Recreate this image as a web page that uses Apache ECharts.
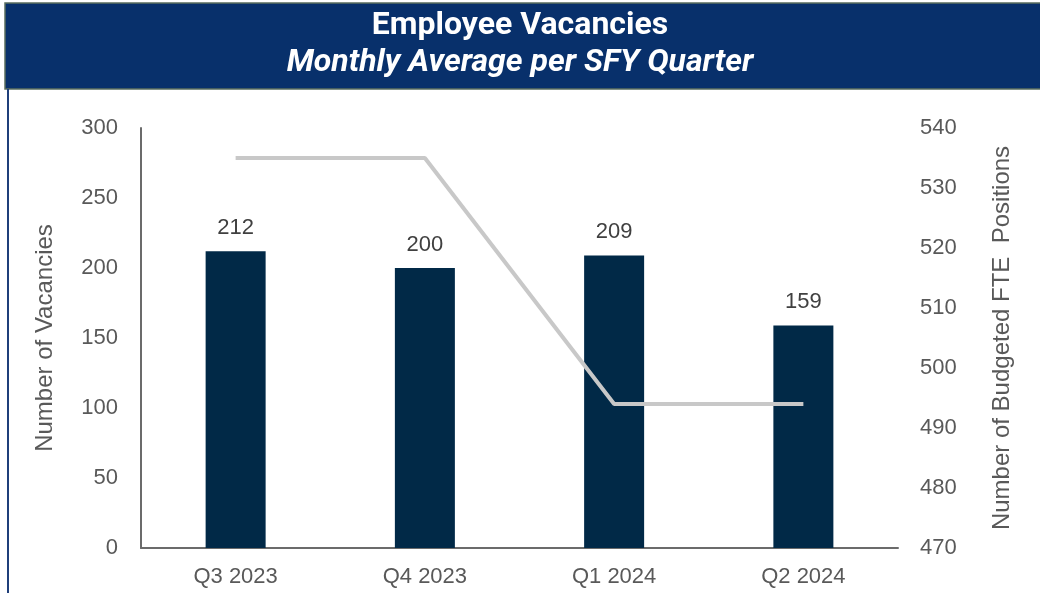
<!DOCTYPE html>
<html>
<head>
<meta charset="utf-8">
<script src="https://cdn.jsdelivr.net/npm/echarts@6/dist/echarts.min.js"></script>
<style>
  html, body { margin: 0; padding: 0; background: #fff; }
  #chart { width: 1040px; height: 593px; }
</style>
</head>
<body>
<div id="chart"></div>
<script>
var quarters = ['Q3 2023', 'Q4 2023', 'Q1 2024', 'Q2 2024'];
var vacancies = [212, 200, 209, 159];
var budgetedFte = [535, 535, 494, 494];

var chart = echarts.init(document.getElementById('chart'));
var labelColor = '#595959';
var font = 'Liberation Sans, Arial, sans-serif';

var option = {
  animation: false,
  backgroundColor: '#fff',
  graphic: [
    // title banner
    { type: 'rect', shape: { x: 5, y: 3, width: 1040, height: 86 }, style: { fill: '#08306b', stroke: '#5a6e5f', lineWidth: 1.5 }, z: 0 },
    { type: 'line', shape: { x1: 8, y1: 89, x2: 8, y2: 593 }, style: { stroke: '#1f3f7a', lineWidth: 2 } },
    {
      type: 'text', left: 'center', top: 10,
      style: { text: 'Employee Vacancies', fill: '#fff', font: 'bold 32px Roboto, sans-serif' }
    },
    {
      type: 'text', left: 'center', top: 47,
      style: { text: 'Monthly Average per SFY Quarter', fill: '#fff', font: 'italic bold 32px Roboto, sans-serif' }
    }
  ],
  grid: { left: 141, right: 142, top: 128, bottom: 45 },
  xAxis: {
    type: 'category',
    data: quarters,
    axisLine: { lineStyle: { color: '#6b6b6b', width: 2 } },
    axisTick: { show: false },
    axisLabel: { color: labelColor, fontSize: 22, fontFamily: font, margin: 18 }
  },
  yAxis: [
    {
      type: 'value', min: 0, max: 300, interval: 50,
      name: 'Number of Vacancies', nameLocation: 'middle', nameGap: 84,
      nameTextStyle: { color: labelColor, fontSize: 24, fontFamily: font },
      axisLine: { show: true, lineStyle: { color: '#6b6b6b', width: 2 } },
      axisTick: { show: false },
      splitLine: { show: false },
      axisLabel: { color: labelColor, fontSize: 22, fontFamily: font, margin: 23 }
    },
    {
      type: 'value', min: 470, max: 540, interval: 10,
      name: 'Number of Budgeted FTE  Positions', nameLocation: 'middle', nameGap: 92,
      nameTextStyle: { color: labelColor, fontSize: 24, fontFamily: font },
      axisLine: { show: false },
      axisTick: { show: false },
      splitLine: { show: false },
      axisLabel: { color: labelColor, fontSize: 22, fontFamily: font, margin: 22 }
    }
  ],
  series: [
    {
      type: 'bar',
      data: vacancies,
      barWidth: 60,
      itemStyle: { color: '#012947' },
      label: { show: true, position: 'top', distance: 12, color: '#404040', fontSize: 22, fontFamily: font }
    },
    {
      type: 'line',
      yAxisIndex: 1,
      data: budgetedFte,
      symbol: 'none',
      lineStyle: { color: '#c8c8c8', width: 4 }
    }
  ]
};

chart.setOption(option);
</script>
</body>
</html>
